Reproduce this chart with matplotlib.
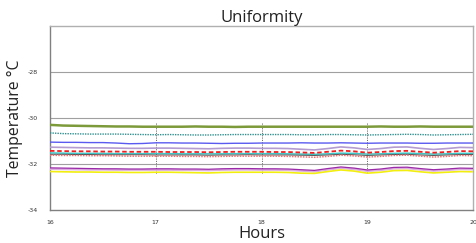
import matplotlib
matplotlib.use("Agg")
import matplotlib.pyplot as plt

hours = [16.0, 16.125, 16.25, 16.375, 16.5, 16.625, 16.75, 16.875,
         17.0, 17.125, 17.25, 17.375, 17.5, 17.625, 17.75, 17.875,
         18.0, 18.125, 18.25, 18.375, 18.5, 18.625, 18.75, 18.875,
         19.0, 19.125, 19.25, 19.375, 19.5, 19.625, 19.75, 19.875, 20.0]

olive = [-30.30, -30.33, -30.34, -30.35, -30.36, -30.37, -30.37, -30.38,
         -30.38, -30.38, -30.38, -30.37, -30.38, -30.38, -30.39, -30.38,
         -30.38, -30.38, -30.38, -30.38, -30.38, -30.38, -30.38, -30.38,
         -30.38, -30.37, -30.38, -30.38, -30.37, -30.38, -30.38, -30.38, -30.38]
teal = [-30.65, -30.68, -30.69, -30.70, -30.70, -30.70, -30.71, -30.72,
        -30.73, -30.72, -30.73, -30.74, -30.74, -30.73, -30.72, -30.72,
        -30.72, -30.72, -30.72, -30.73, -30.73, -30.72, -30.72, -30.73,
        -30.74, -30.73, -30.72, -30.71, -30.72, -30.74, -30.73, -30.72, -30.71]
blue = [-31.05, -31.06, -31.06, -31.07, -31.07, -31.09, -31.12, -31.11,
        -31.08, -31.08, -31.09, -31.09, -31.10, -31.11, -31.10, -31.10,
        -31.09, -31.09, -31.09, -31.08, -31.09, -31.09, -31.08, -31.09,
        -31.10, -31.09, -31.09, -31.09, -31.10, -31.10, -31.09, -31.09, -31.09]
lavender = [-31.27, -31.28, -31.29, -31.30, -31.30, -31.31, -31.32, -31.32,
            -31.31, -31.31, -31.32, -31.33, -31.34, -31.32, -31.31, -31.31,
            -31.32, -31.32, -31.33, -31.36, -31.39, -31.33, -31.26, -31.30,
            -31.37, -31.33, -31.27, -31.26, -31.32, -31.37, -31.33, -31.28, -31.29]
red_dash = [-31.43, -31.44, -31.45, -31.45, -31.46, -31.46, -31.47, -31.47,
            -31.47, -31.48, -31.48, -31.48, -31.49, -31.48, -31.47, -31.47,
            -31.47, -31.48, -31.48, -31.50, -31.52, -31.47, -31.42, -31.45,
            -31.51, -31.48, -31.44, -31.43, -31.47, -31.51, -31.48, -31.44, -31.45]
cyan = [-31.52, -31.53, -31.54, -31.54, -31.54, -31.55, -31.55, -31.55,
        -31.55, -31.55, -31.56, -31.56, -31.56, -31.56, -31.55, -31.55,
        -31.55, -31.55, -31.56, -31.57, -31.58, -31.56, -31.53, -31.54,
        -31.57, -31.56, -31.54, -31.53, -31.55, -31.57, -31.56, -31.54, -31.54]
dark = [-31.58, -31.58, -31.59, -31.59, -31.60, -31.60, -31.60, -31.60,
        -31.61, -31.61, -31.61, -31.61, -31.62, -31.61, -31.61, -31.60,
        -31.61, -31.61, -31.61, -31.62, -31.63, -31.61, -31.58, -31.60,
        -31.63, -31.61, -31.59, -31.58, -31.61, -31.63, -31.61, -31.59, -31.59]
red_dot = [-31.62, -31.63, -31.63, -31.64, -31.64, -31.65, -31.66, -31.66,
           -31.66, -31.66, -31.67, -31.67, -31.68, -31.67, -31.66, -31.66,
           -31.66, -31.66, -31.67, -31.69, -31.71, -31.67, -31.62, -31.65,
           -31.70, -31.67, -31.63, -31.62, -31.66, -31.70, -31.67, -31.63, -31.64]
purple = [-32.17, -32.18, -32.19, -32.20, -32.21, -32.21, -32.22, -32.22,
          -32.21, -32.21, -32.22, -32.22, -32.23, -32.21, -32.20, -32.20,
          -32.21, -32.21, -32.22, -32.25, -32.28, -32.20, -32.13, -32.18,
          -32.26, -32.22, -32.15, -32.14, -32.20, -32.25, -32.22, -32.18, -32.19]
pink = [-32.22, -32.23, -32.24, -32.25, -32.25, -32.26, -32.26, -32.26,
        -32.26, -32.26, -32.27, -32.27, -32.28, -32.26, -32.25, -32.25,
        -32.26, -32.26, -32.27, -32.30, -32.33, -32.25, -32.18, -32.23,
        -32.31, -32.27, -32.20, -32.19, -32.25, -32.30, -32.27, -32.23, -32.24]
yellow = [-32.33, -32.34, -32.35, -32.35, -32.36, -32.36, -32.37, -32.37,
          -32.36, -32.36, -32.37, -32.38, -32.39, -32.37, -32.36, -32.36,
          -32.36, -32.36, -32.37, -32.40, -32.41, -32.33, -32.26, -32.31,
          -32.40, -32.36, -32.29, -32.28, -32.34, -32.39, -32.36, -32.33, -32.34]

x_ticks = [16, 17, 18, 19, 20]
y_ticks = [-34, -32, -30, -28]

fig = plt.figure(figsize=(4.76, 2.43), dpi=100)
ax = fig.add_axes([0.105, 0.136, 0.889, 0.757])

for y in [-28, -30, -32]:
    ax.axhline(y, color="#a0a0a0", lw=0.8, zorder=1)
for x in [17, 18, 19]:
    ax.plot([x, x], [-30.2, -32.45], color="#707070", lw=0.7, ls=(0, (1.2, 1.2)), zorder=1)

ax.plot(hours, olive, color="#7d9a3a", lw=1.8, zorder=3)
ax.plot(hours, teal, color="#2f8f8f", lw=1.0, ls=(0, (1, 0.8)), zorder=3)
ax.plot(hours, blue, color="#5a5af0", lw=1.0, zorder=3)
ax.plot(hours, lavender, color="#b49cd0", lw=1.2, zorder=3)
ax.plot(hours, cyan, color="#3cc8c8", lw=1.1, zorder=3)
ax.plot(hours, dark, color="#505050", lw=0.7, zorder=3)
ax.plot(hours, red_dot, color="#f07070", lw=1.1, ls=(0, (1, 0.8)), zorder=3)
ax.plot(hours, red_dash, color="#f02020", lw=1.3, ls=(0, (2.5, 1.5)), zorder=4)
ax.plot(hours, pink, color="#dcaee0", lw=1.4, zorder=3)
ax.plot(hours, purple, color="#9a2aa8", lw=0.9, zorder=3)
ax.plot(hours, yellow, color="#f2ee10", lw=1.2, zorder=3)

ax.set_xlim(16, 20)
ax.set_ylim(-34, -26)
ax.set_xticks(x_ticks)
ax.set_yticks(y_ticks)
ax.set_xticklabels([str(v) for v in x_ticks], fontsize=4.5, color="#333333")
ax.set_yticklabels([str(v) for v in y_ticks], fontsize=4.5, color="#333333")
ax.tick_params(length=0, pad=7)
ax.tick_params(axis="y", pad=9)

for s in ["left", "bottom"]:
    ax.spines[s].set_color("#808080")
    ax.spines[s].set_linewidth(1.0)
for s in ["top", "right"]:
    ax.spines[s].set_color("#b0b0b0")
    ax.spines[s].set_linewidth(1.0)

ax.set_title("Uniformity", fontsize=12, family="Open Sans", color="#222222", pad=2)
ax.set_xlabel("Hours", fontsize=12, family="Open Sans", color="#222222", labelpad=1)
ax.set_ylabel("Temperature °C", fontsize=11.3, family="Open Sans", color="#222222", labelpad=3)

fig.savefig("out.png", dpi=100)
